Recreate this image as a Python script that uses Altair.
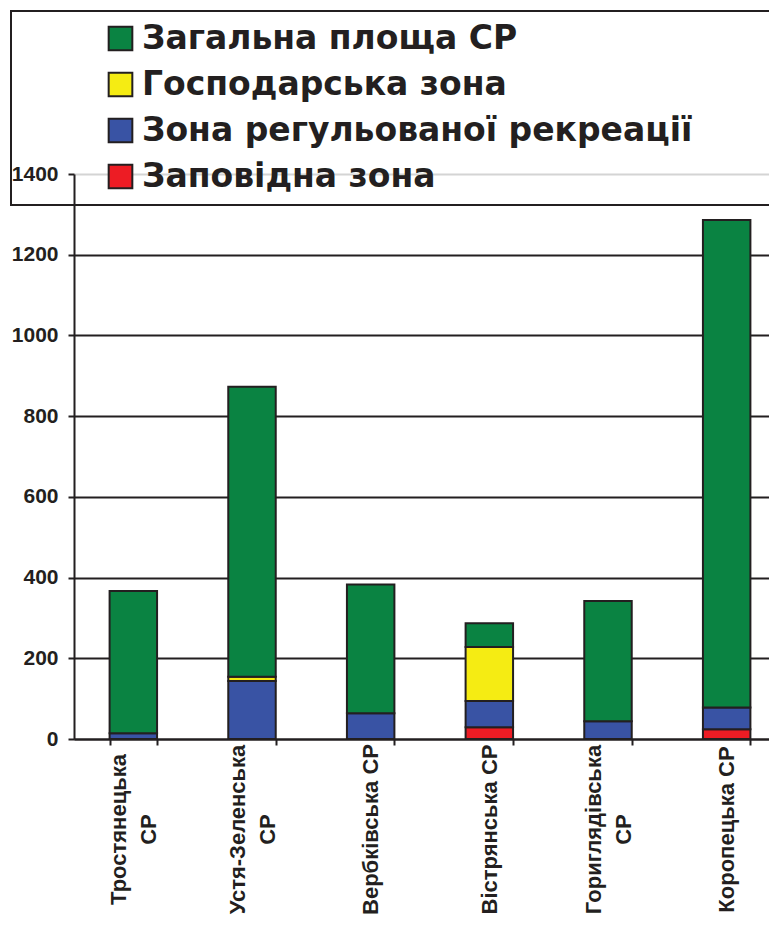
import altair as alt
import pandas as pd

categories = ["Тростянецька\nСР", "Устя-Зеленська\nСР", "Вербківська СР",
              "Вістрянська СР", "Гориглядівська\nСР", "Коропецька СР"]
series = ["Загальна площа СР", "Господарська зона",
          "Зона регульованої рекреації", "Заповідна зона"]
colors = ["#0A8342", "#F5EC13", "#3953A4", "#ED1C24"]

# stacked segment heights (bottom to top: red, blue, yellow, green)
zapovidna = [0, 0, 0, 29, 0, 24]
rekreatsiya = [14, 144, 64, 65, 44, 54]
hospodarska = [0, 10, 0, 134, 0, 0]
zahalna = [353, 719, 319, 59, 298, 1208]
y_ticks = [0, 200, 400, 600, 800, 1000, 1200, 1400]

stack = [(series[3], zapovidna), (series[2], rekreatsiya),
         (series[1], hospodarska), (series[0], zahalna)]
rows = []
for i, c in enumerate(categories):
    for rank, (s, vals) in enumerate(stack):
        rows.append({"cat": c, "series": s, "value": vals[i], "rank": rank})
df = pd.DataFrame(rows)

dark = "#231F20"

chart = alt.Chart(df).transform_filter("datum.value > 0").mark_bar(
    stroke=dark, strokeWidth=2
).encode(
    x=alt.X("cat:N", sort=categories,
            scale=alt.Scale(range=[0, 712], paddingInner=0.6, paddingOuter=0.3),
            axis=alt.Axis(title=None, labelAngle=270, labelAlign="center",
                          labelBaseline="middle", labelPadding=84,
                          labelOffset={"expr": "indexof(datum.label, '\\n') >= 0 ? -15 : 0"},
                          labelFont="Liberation Sans", labelFontWeight="bold",
                          labelFontSize=22, labelLineHeight=30, labelColor=dark,
                          labelExpr="split(datum.label, '\\n')", labelLimit=400,
                          tickBand="extent", tickSize=6, tickWidth=2, tickColor=dark,
                          domainWidth=2, domainColor=dark, grid=False)),
    y=alt.Y("value:Q", stack="zero",
            scale=alt.Scale(domain=[0, 1400], nice=False),
            axis=alt.Axis(title=None, values=y_ticks, format="d",
                          labelFont="Liberation Sans",
                          labelFontWeight="bold", labelFontSize=21, labelColor=dark,
                          labelPadding=10, tickSize=6, tickWidth=2, tickColor=dark,
                          domainWidth=2, domainColor=dark, grid=True, gridWidth=2,
                          gridColor={"expr": "datum.value === 1400 ? '#D4D4D4' : '#231F20'"})),
    color=alt.Color("series:N", scale=alt.Scale(domain=series, range=colors),
                    legend=alt.Legend(title="\u00a0" * 40, titleOrient="right",
                                      titleOpacity=0, titleFontSize=33,
                                      titleLimit=2000, titlePadding=100,
                                      orient="none", legendX=-63, legendY=-163,
                                      labelFont="DejaVu Sans", labelFontWeight="bold",
                                      labelFontSize=33, labelColor=dark, labelLimit=1000,
                                      labelOffset=5, symbolType="square",
                                      symbolSize=560, symbolStrokeColor=dark,
                                      symbolStrokeWidth=2, symbolOpacity=1,
                                      symbolOffset=82, rowPadding=12,
                                      padding=11, strokeColor=dark)),
    order=alt.Order("rank:Q", sort="ascending"),
).properties(
    width=695, height=565,
    autosize=alt.AutoSizeParams(type="none"),
    padding={"left": 66, "top": 166, "right": 0, "bottom": 179},
).configure_view(stroke=None).configure_legend(strokeWidth=2)

chart.save("out.html", embed_options={"renderer": "svg", "actions": False})
